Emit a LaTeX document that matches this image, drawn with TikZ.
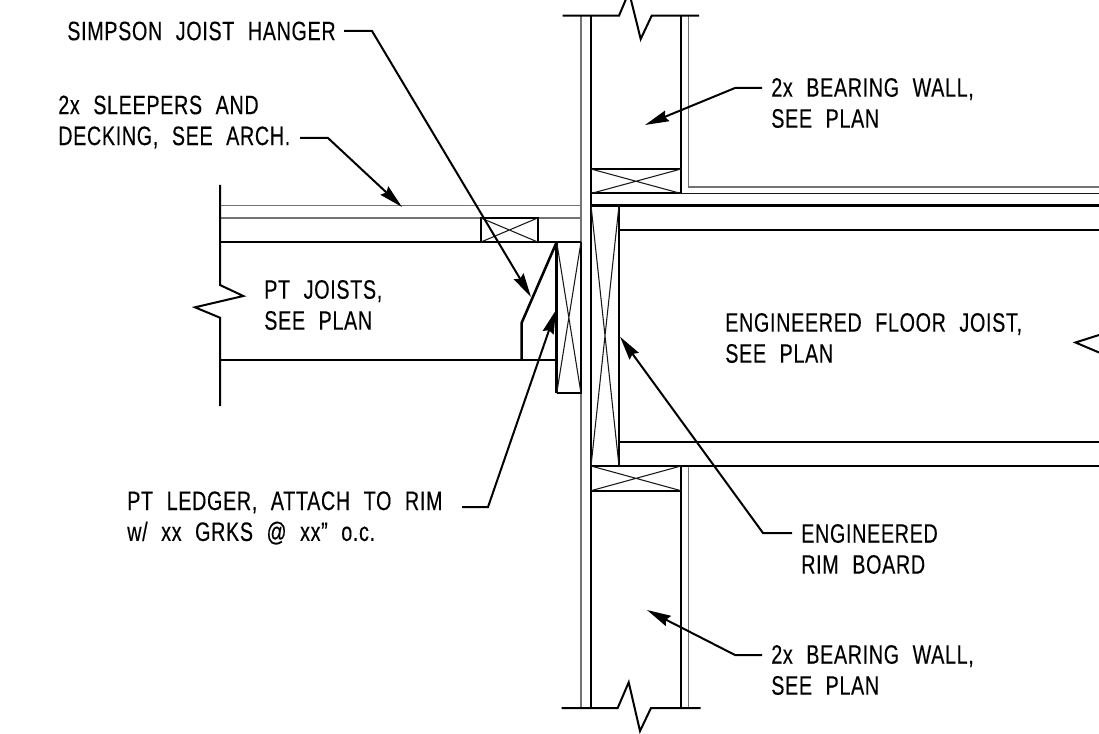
\documentclass[tikz,border=0pt]{standalone}
\usepackage{fontspec}
\setmainfont[FakeStretch=0.74,LetterSpace=2.5,WordSpace=2.2,FakeBold=0.25]{Liberation Sans}
\usetikzlibrary{arrows.meta}
\tikzset{
  heavy/.style={line width=1.9pt,black},
  med/.style={line width=1.5pt,black},
  thin/.style={line width=0.8pt,black!90},
  grey/.style={line width=0.9pt,black!55},
  leader/.style={line width=1.5pt,black,-{Stealth[length=18pt,width=8.5pt,inset=2pt]}},
  lbl/.style={anchor=west,inner sep=0pt,font=\fontsize{20pt}{23.2pt}\selectfont,align=left,text=black}
}
\begin{document}
\begin{tikzpicture}[x=0.75pt,y=-0.75pt]
\useasboundingbox (0,0) rectangle (1099,734);
\clip (0,0) rectangle (1099,734);
% grey lines
\draw[grey] (581,16) -- (581,708);
\draw[grey] (688.3,16) -- (688.3,187) -- (1099,187);
\draw[grey] (688.3,466) -- (688.3,708);
\draw[grey] (220,205.7) -- (581,205.7);
\draw[grey] (220,218) -- (581,218);
% upper wall
\draw[med] (562.7,15.7) -- (619,15.7) -- (629,-8) -- (640.7,39) -- (651.7,15.7) -- (699,15.7);
\draw[heavy] (591,15.7) -- (591,708);
\draw[heavy] (681,15.7) -- (681,193.7);
\draw[med] (591,169) -- (681,169);
\draw[med] (591,193.5) -- (681,193.5);
\draw[thin] (681,193.7) -- (1099,193.7);
\draw[thin] (591,169) -- (681,193.5) (591,193.5) -- (681,169);
% floor joist + rim
\draw[heavy] (591,205.5) -- (1099,205.5);
\draw[heavy] (619,205.5) -- (619,466);
\draw[heavy] (619,230) -- (1099,230);
\draw[med] (619,442) -- (1099,442);
\draw[heavy] (591,466) -- (1099,466);
\draw[thin] (591,205.5) -- (619,466) (619,205.5) -- (591,466);
% lower wall
\draw[heavy] (681,466) -- (681,708);
\draw[med] (591,490.7) -- (681,490.7);
\draw[thin] (591,466) -- (681,490.7) (591,490.7) -- (681,466);
\draw[med] (561.7,708) -- (617.7,708) -- (628.7,682.3) -- (640,731) -- (651,708) -- (700.7,708);
% deck / joists
\draw[med] (220,185) -- (220,285) -- (243.3,296) -- (195,307.3) -- (220,317.7) -- (220,406);
\draw[med] (220,242) -- (581,242);
\draw[med] (220,360.3) -- (556.7,360.3);
\draw[med] (481,218) rectangle (537.7,242);
\draw[thin] (481,218) -- (537.7,242) (481,242) -- (537.7,218);
% ledger + hanger
\draw[heavy] (556.7,242) -- (556.7,393.3);
\draw[med] (556.7,393.3) -- (581,393.3) -- (581,242);
\draw[thin] (556.7,242) -- (581,393.3) (581,242) -- (556.7,393.3);
\draw[heavy] (556.7,242) -- (521.7,322.7) -- (521.7,360.3);
% break mark at right
\draw[med] (1099,335) -- (1075.5,342.5) -- (1099,352.5);
% labels
\node[lbl] (simpson) at (67,31) {SIMPSON JOIST HANGER};
\node[lbl] (sleepers) at (58,122) {2x SLEEPERS AND\\DECKING, SEE ARCH.};
\node[lbl] (ptj) at (264,305) {PT JOISTS,\\SEE PLAN};
\node[lbl] (ledger) at (127,518) {PT LEDGER, ATTACH TO RIM\\w/ xx GRKS @ xx" o.c.};
\node[lbl] (wallup) at (771,103) {2x BEARING WALL,\\SEE PLAN};
\node[lbl] (joist) at (725,338) {ENGINEERED FLOOR JOIST,\\SEE PLAN};
\node[lbl] (rim) at (801,549) {ENGINEERED\\RIM BOARD};
\node[lbl] (walldn) at (771,670) {2x BEARING WALL,\\SEE PLAN};
% leader ends
\coordinate (tsimpson) at (531,297);
\coordinate (ssimpson) at (344,31);
\coordinate (tsleepers) at (402,207);
\coordinate (ssleepers) at (300,138);
\coordinate (tledger) at (556,310);
\coordinate (sledger) at (462,507);
\coordinate (trim) at (620,336.7);
\coordinate (srim) at (792,533);
\coordinate (twallup) at (645,125);
\coordinate (swallup) at (762,88);
\coordinate (twalldn) at (647,610);
\coordinate (swalldn) at (762,655);
\draw[leader] (ssimpson) -- (372,31) -- (tsimpson);
\draw[leader] (ssleepers) -- (328,138) -- (tsleepers);
\draw[leader] (sledger) -- (488,507) -- (tledger);
\draw[leader] (srim) -- (763,533) -- (trim);
\draw[leader] (swallup) -- (735,88) -- (twallup);
\draw[leader] (swalldn) -- (735,655) -- (twalldn);
\end{tikzpicture}
\end{document}
